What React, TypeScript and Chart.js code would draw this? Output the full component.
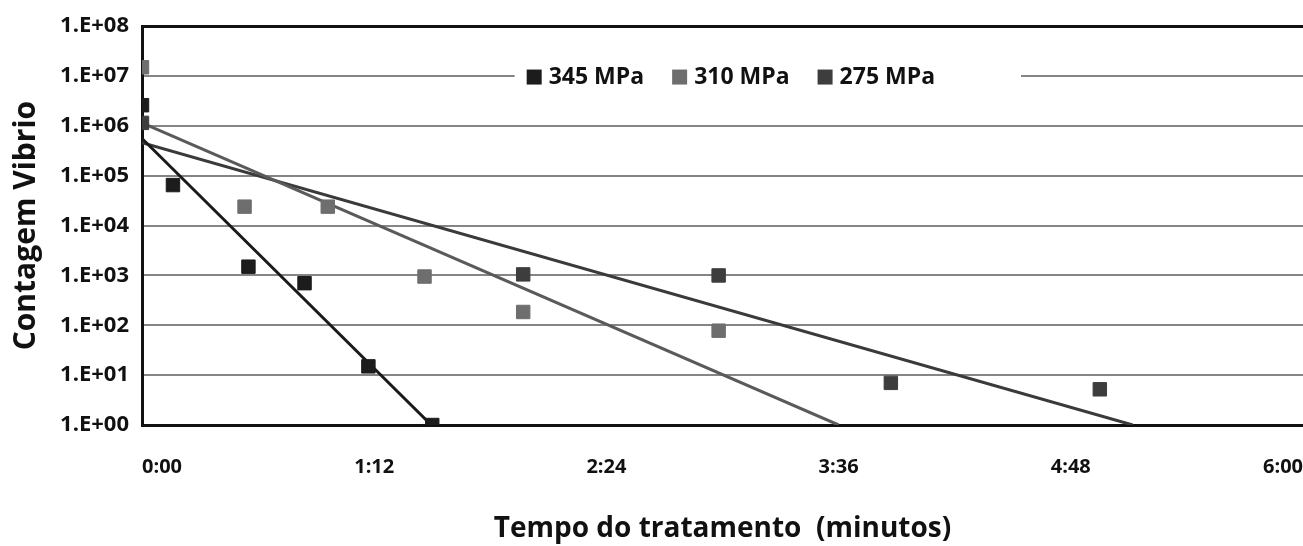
import React, { useEffect, useRef } from "react";
import { Chart, registerables } from "chart.js";

Chart.register(...registerables);

// ---- data (time in minutes, counts in CFU) ----
const seriesLabels = ["345 MPa", "310 MPa", "275 MPa"];

const time345 = [0, 0.16, 0.55, 0.84, 1.17, 1.5];
const count345 = [2.6e6, 6.5e4, 1.5e3, 700, 15, 1];

const time310 = [0, 0.53, 0.96, 1.46, 1.97, 2.98];
const count310 = [1.5e7, 2.4e4, 2.4e4, 950, 185, 78];

const time275 = [0, 1.97, 2.98, 3.87, 4.95];
const count275 = [1.15e6, 1050, 1000, 7, 5.2];

// trend lines (exponential fits), endpoints
const trendTime345 = [0, 1.495];
const trendCount345 = [5.6e5, 1];
const trendTime310 = [0, 3.6];
const trendCount310 = [1.15e6, 1];
const trendTime275 = [0, 5.12];
const trendCount275 = [4.6e5, 1];

const yTickValues = [1, 10, 100, 1e3, 1e4, 1e5, 1e6, 1e7, 1e8];
const xTickValues = [0, 1.2, 2.4, 3.6, 4.8, 6];

const yTitle = "Contagem Vibrio";
const xTitle = "Tempo do tratamento  (minutos)";

// ---- styles ----
const FONT = "'Open Sans', 'DejaVu Sans', sans-serif";
const pointColors = ["#1c1c1c", "#6e6e6e", "#3d3d3d"];
const trendColors = ["#1a1a1a", "#5a5a5a", "#3a3a3a"];

const zip = (xs: number[], ys: number[]) => xs.map((x, i) => ({ x, y: ys[i] }));

const fmtTime = (v: number) => {
  const s = Math.round(v * 60);
  const m = Math.floor(s / 60);
  const r = s % 60;
  return `${m}:${String(r).padStart(2, "0")}`;
};

const fmtSci = (v: number) => {
  const e = Math.round(Math.log10(v));
  return `1.E+${String(e).padStart(2, "0")}`;
};

const boxLegend = {
  id: "boxLegend",
  afterDatasetsDraw(chart: any) {
    const { ctx, chartArea, scales } = chart;
    const cy = scales.y.getPixelForValue(1e7);
    ctx.save();
    ctx.font = `bold 23px ${FONT}`;
    const marker = 15;
    const gap = 7;
    const itemGap = 28;
    const padL = 12;
    const padR = 86;
    const widths = seriesLabels.map((l) => ctx.measureText(l).width);
    const total =
      widths.reduce((a, w) => a + marker + gap + w, 0) + itemGap * (seriesLabels.length - 1);
    const left = chartArea.left + (chartArea.right - chartArea.left) * 0.321;
    ctx.fillStyle = "#ffffff";
    ctx.fillRect(left, cy - 17, total + padL + padR, 34);
    let x = left + padL;
    ctx.textBaseline = "middle";
    ctx.textAlign = "left";
    seriesLabels.forEach((l, i) => {
      ctx.fillStyle = pointColors[i];
      ctx.fillRect(x, cy - marker / 2 + 1, marker, marker);
      x += marker + gap;
      ctx.fillStyle = "#111";
      ctx.fillText(l, x, cy + 1);
      x += widths[i] + itemGap;
    });
    ctx.restore();
  },
};

export default function App() {
  const ref = useRef<HTMLCanvasElement | null>(null);

  useEffect(() => {
    if (!ref.current) return;
    Chart.defaults.font.family = FONT;
    const pointDs = (label: string, xs: number[], ys: number[], i: number) => ({
      label,
      data: zip(xs, ys),
      showLine: false,
      pointStyle: "rect",
      pointRadius: 9.5,
      pointBorderWidth: 1,
      backgroundColor: pointColors[i],
      borderColor: pointColors[i],
    });
    const trendDs = (label: string, xs: number[], ys: number[], i: number) => ({
      label,
      data: zip(xs, ys),
      showLine: true,
      pointRadius: 0,
      borderWidth: 3,
      borderColor: trendColors[i],
      backgroundColor: trendColors[i],
      fill: false,
    });

    const chart = new Chart(ref.current, {
      type: "scatter",
      data: {
        datasets: [
          pointDs(seriesLabels[0], time345, count345, 0),
          pointDs(seriesLabels[1], time310, count310, 1),
          pointDs(seriesLabels[2], time275, count275, 2),
          trendDs("trend 345", trendTime345, trendCount345, 0),
          trendDs("trend 310", trendTime310, trendCount310, 1),
          trendDs("trend 275", trendTime275, trendCount275, 2),
        ] as any,
      },
      options: {
        responsive: false,
        animation: false,
        devicePixelRatio: 1,
        layout: { autoPadding: false, padding: { top: 22, right: 0, bottom: 0, left: 0 } },
        plugins: {
          legend: { display: false },
          tooltip: { enabled: false },
        },
        scales: {
          x: {
            type: "linear",
            min: 0,
            max: 6,
            afterBuildTicks: (scale: any) => {
              scale.ticks = xTickValues.map((v) => ({ value: v }));
            },
            afterFit: (scale: any) => {
              scale.height = 121;
            },
            grid: { display: false, drawTicks: true, tickLength: 30 },
            border: { display: true, color: "#111", width: 3 },
            ticks: {
              align: "inner",
              padding: 0,
              color: "#111",
              font: { size: 20, weight: "bold" },
              callback: (v: any) => fmtTime(Number(v)),
            },
            title: {
              display: true,
              text: xTitle,
              color: "#111",
              font: { size: 28, weight: "bold" },
              padding: { top: 18, bottom: 0 },
            },
          },
          y: {
            type: "logarithmic",
            min: 1,
            max: 1e8,
            afterBuildTicks: (scale: any) => {
              scale.ticks = yTickValues.map((v) => ({ value: v }));
            },
            afterFit: (scale: any) => {
              scale.width = 142;
            },
            grid: {
              drawTicks: false,
              color: (c: any) => (c.tick && c.tick.value === 1e8 ? "#111" : "#858585"),
              lineWidth: (c: any) => (c.tick && c.tick.value === 1e8 ? 3 : 2),
            },
            border: { display: true, color: "#111", width: 3 },
            ticks: {
              padding: 13,
              color: "#111",
              autoSkip: false,
              font: { size: 22, weight: "bold" },
              callback: (v: any) => fmtSci(Number(v)),
            },
            title: {
              display: true,
              text: yTitle,
              color: "#111",
              font: { size: 30, weight: "bold" },
              padding: { top: 8, bottom: 0 },
            },
          },
        },
      } as any,
      plugins: [boxLegend],
    });
    return () => chart.destroy();
  }, []);

  return (
    <div style={{ position: "absolute", left: 0, top: 0, width: 1303, height: 546, background: "#fff" }}>
      <canvas ref={ref} width={1303} height={546} style={{ display: "block" }} />
    </div>
  );
}
